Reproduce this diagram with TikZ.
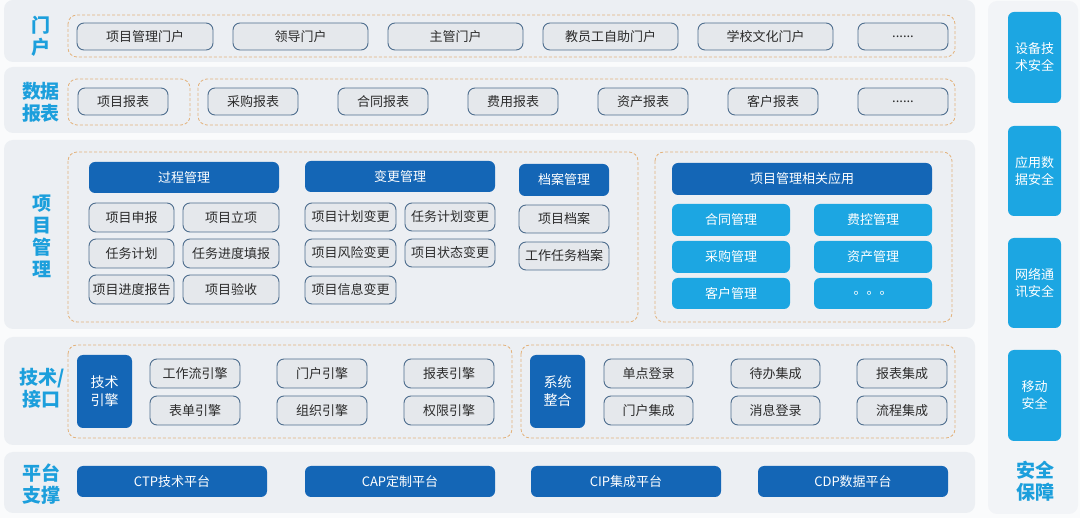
\documentclass[tikz,border=0pt]{standalone}
\usepackage{fontspec}
\setmainfont{Noto Sans CJK SC}
\definecolor{bandc}{HTML}{ECEFF3}
\definecolor{pagec}{HTML}{FAFBFC}
\definecolor{dashc}{HTML}{E3B27C}
\definecolor{gborder}{HTML}{4E6E8E}
\definecolor{gfill}{HTML}{E5E8EC}
\definecolor{textc}{HTML}{2B2B2B}
\definecolor{darkb}{HTML}{1466B6}
\definecolor{lightb}{HTML}{1CA6E2}
\definecolor{labc}{HTML}{1C9FDC}
\tikzset{
  band/.style={fill=bandc,draw=none,rounded corners=9pt},
  dbox/.style={draw=dashc,dashed,line width=0.8pt,rounded corners=9pt,dash pattern=on 3pt off 2pt},
  gbox/.style={draw=gborder,fill=gfill,rounded corners=7pt,line width=0.9pt,text=textc,inner sep=0pt,font=\fontsize{13}{17}\selectfont},
  dkbox/.style={fill=darkb,rounded corners=6pt,text=white,inner sep=0pt,font=\fontsize{13}{17}\selectfont},
  ltbox/.style={fill=lightb,rounded corners=6pt,text=white,inner sep=0pt,font=\fontsize{13}{17}\selectfont},
  bigtxt/.style={font=\fontsize{14}{18}\selectfont},
  lab/.style={text=labc,font=\fontsize{19}{22}\selectfont\bfseries,align=center,inner sep=0pt},
}
\newcommand\bx[7]{\node[#1,minimum width={#4-#2},minimum height={#5-#3},align=center] (#6) at ({(#2+#4)/2},{(#3+#5)/2}) {#7};}
\begin{document}
\begin{tikzpicture}[x=1pt,y=-1pt]
\useasboundingbox (0,0) rectangle (1080,518);
\fill[pagec] (0,0) rectangle (1080,518);
% bands
\draw[band] (4,0) rectangle (975,62);
\draw[band] (4,67) rectangle (975,133);
\draw[band] (4,140) rectangle (975,329);
\draw[band] (4,337) rectangle (975,445);
\draw[band] (4,452) rectangle (975,513);
\draw[band,fill=bandc!70!white] (988,1) rectangle (1078,514);
% dashed groups
\draw[dbox] (68,15) rectangle (955,57);
\draw[dbox] (68,79) rectangle (190,125);
\draw[dbox] (198,79) rectangle (955,125);
\draw[dbox] (68,152) rectangle (638,322);
\draw[dbox] (655,152) rectangle (952,322);
\draw[dbox] (68,345) rectangle (512,438);
\draw[dbox] (521,345) rectangle (955,438);
% left labels
\node[lab] (lmh) at (41,36) {门\\户};
\node[lab] (lsj) at (41,102) {数据\\报表};
\node[lab] (lxm) at (42,236) {项\\目\\管\\理};
\node[lab] (ljs) at (42,388) {技术/\\接口};
\node[lab] (lpt) at (42,484) {平台\\支撑};
% portal
\bx{gbox}{77}{23}{213}{50}{p1}{项目管理门户}
\bx{gbox}{233}{23}{368}{50}{p2}{领导门户}
\bx{gbox}{388}{23}{523}{50}{p3}{主管门户}
\bx{gbox}{543}{23}{678}{50}{p4}{教员工自助门户}
\bx{gbox}{698}{23}{833}{50}{p5}{学校文化门户}
\bx{gbox}{858}{23}{948}{50}{p6}{......}
% reports
\bx{gbox}{78}{88}{168}{115}{r1}{项目报表}
\bx{gbox}{208}{88}{298}{115}{r2}{采购报表}
\bx{gbox}{338}{88}{428}{115}{r3}{合同报表}
\bx{gbox}{468}{88}{558}{115}{r4}{费用报表}
\bx{gbox}{598}{88}{688}{115}{r5}{资产报表}
\bx{gbox}{728}{88}{818}{115}{r6}{客户报表}
\bx{gbox}{858}{88}{948}{115}{r7}{......}
% project management
\bx{dkbox}{89}{162}{279}{193}{h1}{过程管理}
\bx{dkbox}{305}{161}{495}{192}{h2}{变更管理}
\bx{dkbox}{519}{164}{609}{196}{h3}{档案管理}
\bx{gbox}{89}{203}{174}{232}{a1}{项目申报}
\bx{gbox}{183}{203}{279}{232}{a2}{项目立项}
\bx{gbox}{89}{239}{174}{268}{a3}{任务计划}
\bx{gbox}{183}{239}{279}{268}{a4}{任务进度填报}
\bx{gbox}{89}{275}{174}{304}{a5}{项目进度报告}
\bx{gbox}{183}{275}{279}{304}{a6}{项目验收}
\bx{gbox}{305}{203}{396}{231}{b1}{项目计划变更}
\bx{gbox}{405}{203}{495}{231}{b2}{任务计划变更}
\bx{gbox}{305}{239}{396}{267}{b3}{项目风险变更}
\bx{gbox}{405}{239}{495}{267}{b4}{项目状态变更}
\bx{gbox}{305}{276}{396}{304}{b5}{项目信息变更}
\bx{gbox}{519}{205}{609}{233}{c1}{项目档案}
\bx{gbox}{519}{242}{609}{270}{c2}{工作任务档案}
\bx{dkbox}{672}{163}{932}{195}{h4}{项目管理相关应用}
\bx{ltbox}{672}{204}{790}{236}{d1}{合同管理}
\bx{ltbox}{814}{204}{932}{236}{d2}{费控管理}
\bx{ltbox}{672}{241}{790}{273}{d3}{采购管理}
\bx{ltbox}{814}{241}{932}{273}{d4}{资产管理}
\bx{ltbox}{672}{278}{790}{309}{d5}{客户管理}
\bx{ltbox}{814}{278}{932}{309}{d6}{。。。}
% tech
\bx{dkbox,bigtxt}{77}{355}{132}{428}{t0}{技术\\引擎}
\bx{gbox}{150}{359}{240}{388}{t1}{工作流引擎}
\bx{gbox}{150}{396}{240}{425}{t2}{表单引擎}
\bx{gbox}{277}{359}{367}{388}{t3}{门户引擎}
\bx{gbox}{277}{396}{367}{425}{t4}{组织引擎}
\bx{gbox}{404}{359}{494}{388}{t5}{报表引擎}
\bx{gbox}{404}{396}{494}{425}{t6}{权限引擎}
\bx{dkbox,bigtxt}{530}{355}{585}{428}{s0}{系统\\整合}
\bx{gbox}{604}{359}{693}{388}{s1}{单点登录}
\bx{gbox}{604}{396}{693}{425}{s2}{门户集成}
\bx{gbox}{731}{359}{820}{388}{s3}{待办集成}
\bx{gbox}{731}{396}{820}{425}{s4}{消息登录}
\bx{gbox}{857}{359}{947}{388}{s5}{报表集成}
\bx{gbox}{857}{396}{947}{425}{s6}{流程集成}
% platform
\bx{dkbox}{77}{466}{267}{497}{f1}{CTP技术平台}
\bx{dkbox}{305}{466}{495}{497}{f2}{CAP定制平台}
\bx{dkbox}{531}{466}{721}{497}{f3}{CIP集成平台}
\bx{dkbox}{758}{466}{948}{497}{f4}{CDP数据平台}
% security
\bx{ltbox}{1008}{12}{1061}{103}{g1}{设备技\\术安全}
\bx{ltbox}{1008}{126}{1061}{216}{g2}{应用数\\据安全}
\bx{ltbox}{1008}{238}{1061}{328}{g3}{网络通\\讯安全}
\bx{ltbox}{1008}{350}{1061}{441}{g4}{移动\\安全}
\node[lab] (lsec) at (1035,481) {安全\\保障};
\end{tikzpicture}
\end{document}
